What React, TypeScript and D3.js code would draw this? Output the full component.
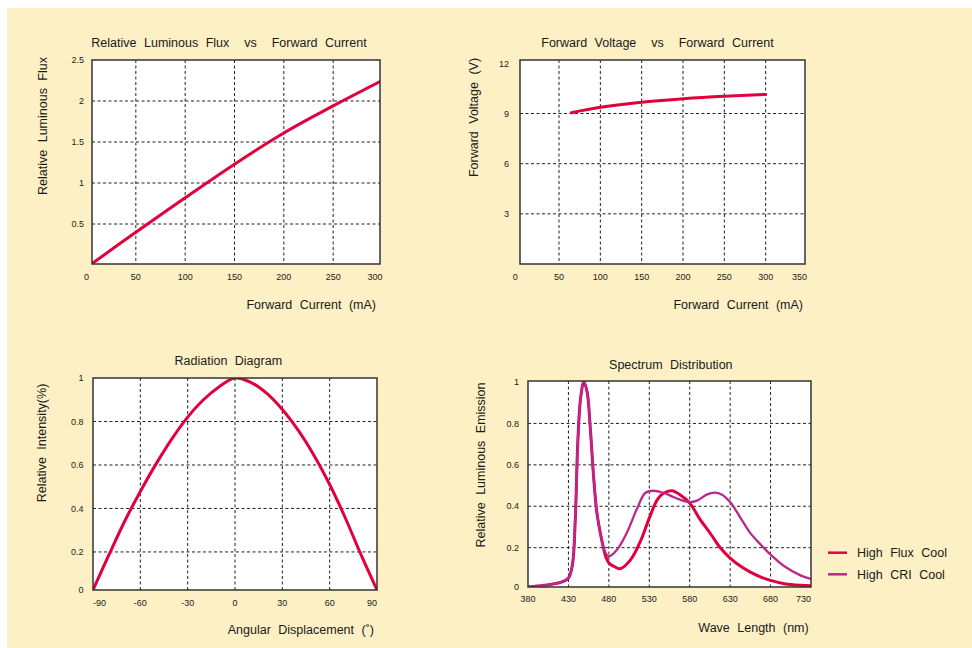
import { line, curveCatmullRom, scaleLinear, type ScaleLinear } from "d3";

const W = 972;
const H = 648;
const FONT = "'Liberation Sans', Arial, Helvetica, sans-serif";
const RED = "#e2003c";
const MAGENTA = "#b8288d";
const BEIGE = "#fdf0c5";

// --- Relative luminous flux vs forward current
const FLUX_CURRENT = [6, 50, 100, 150, 200, 250, 298];
const FLUX_VALUES = [0.02, 0.4, 0.82, 1.23, 1.61, 1.94, 2.24];
const FLUX_X_TICKS = [0, 50, 100, 150, 200, 250, 300];
const FLUX_Y_TICKS = [0.5, 1, 1.5, 2, 2.5];

// --- Forward voltage vs forward current
const VF_CURRENT = [65, 100, 150, 200, 250, 300];
const VF_VALUES = [9.05, 9.37, 9.68, 9.88, 10.03, 10.14];
const VF_X_TICKS = [0, 50, 100, 150, 200, 250, 300, 350];
const VF_Y_TICKS = [3, 6, 9, 12];

// --- Radiation diagram
const RAD_ANGLE = [-90, -80, -70, -60, -50, -40, -30, -20, -10, 0, 10, 20, 30, 40, 50, 60, 70, 80, 90];
const RAD_VALUES = [0, 0.185, 0.34, 0.478, 0.605, 0.72, 0.82, 0.9, 0.96, 1.0, 0.98, 0.93, 0.855, 0.76, 0.645, 0.51, 0.355, 0.185, 0];
const RAD_X_TICKS = [-90, -60, -30, 0, 30, 60, 90];
const RAD_Y_TICKS = [0, 0.2, 0.4, 0.6, 0.8, 1];

// --- Spectrum distribution
const FLUX_COOL_NM = [380, 400, 420, 430, 435, 438.5, 441.5, 445, 449, 453, 457, 461, 465, 470, 476, 480, 486, 494, 507, 519, 530, 540, 548, 558, 568, 580, 593, 606, 618, 630, 643, 655, 668, 680, 697, 717, 730];
const FLUX_COOL = [0.01, 0.018, 0.032, 0.053, 0.12, 0.34, 0.7, 0.92, 1.0, 0.955, 0.78, 0.55, 0.375, 0.26, 0.158, 0.126, 0.11, 0.098, 0.142, 0.23, 0.343, 0.432, 0.464, 0.475, 0.456, 0.416, 0.335, 0.266, 0.198, 0.15, 0.11, 0.082, 0.058, 0.042, 0.026, 0.018, 0.016];
const CRI_COOL_NM = [380, 400, 420, 430, 435, 438.5, 441.5, 445, 449, 453, 457, 461, 465, 470, 476, 480, 490, 502, 515, 525, 535, 548, 558, 568, 580, 589, 601, 611, 620, 630, 643, 655, 668, 680, 697, 717, 730];
const CRI_COOL = [0.01, 0.018, 0.032, 0.053, 0.12, 0.34, 0.7, 0.92, 1.0, 0.955, 0.78, 0.55, 0.375, 0.26, 0.174, 0.158, 0.19, 0.27, 0.39, 0.464, 0.475, 0.464, 0.448, 0.432, 0.42, 0.427, 0.456, 0.466, 0.456, 0.42, 0.343, 0.27, 0.214, 0.166, 0.11, 0.066, 0.049];
const SPEC_X_TICKS = [380, 430, 480, 530, 580, 630, 680, 730];
const SPEC_Y_TICKS = [0, 0.2, 0.4, 0.6, 0.8, 1];
const LEGEND = ["High Flux Cool", "High CRI Cool"];

type Box = { l: number; t: number; r: number; b: number };
type Series = { xs: number[]; ys: number[]; color: string; width: number };
type Anchor = "start" | "middle" | "end";

type PanelProps = {
  id: string;
  box: Box;
  x: ScaleLinear<number, number>;
  y: ScaleLinear<number, number>;
  xTicks: number[];
  yTicks: number[];
  xGrid: number[];
  yGrid: number[];
  series: Series[];
  title: string;
  titleAt: [number, number];
  xTitle: string;
  xTitleAt: [number, number];
  yTitle: string;
  yTitleAt: [number, number];
  firstAnchor?: Anchor;
  lastAnchor?: Anchor;
  xTickGap: number;
  yTickGap: number;
};

function Panel(p: PanelProps) {
  const { box, x, y } = p;
  const path = line<[number, number]>()
    .x((d) => x(d[0]))
    .y((d) => y(d[1]))
    .curve(curveCatmullRom.alpha(0.5));

  return (
    <g>
      <defs>
        <clipPath id={p.id}>
          <rect x={box.l} y={box.t} width={box.r - box.l} height={box.b - box.t} />
        </clipPath>
      </defs>
      <rect x={box.l} y={box.t} width={box.r - box.l} height={box.b - box.t} fill="#fff" />

      {p.xGrid.map((v) => (
        <line key={`gx${v}`} x1={x(v)} x2={x(v)} y1={box.t} y2={box.b}
          stroke="#222" strokeWidth={1} strokeDasharray="3,2.5" />
      ))}
      {p.yGrid.map((v) => (
        <line key={`gy${v}`} x1={box.l} x2={box.r} y1={y(v)} y2={y(v)}
          stroke="#222" strokeWidth={1} strokeDasharray="3,2.5" />
      ))}

      <g clipPath={`url(#${p.id})`}>
        {p.series.map((s, i) => (
          <path key={i} d={path(s.xs.map((v, j) => [v, s.ys[j]] as [number, number])) ?? undefined}
            fill="none" stroke={s.color} strokeWidth={s.width} strokeLinejoin="round" strokeLinecap="round" />
        ))}
      </g>

      <rect x={box.l} y={box.t} width={box.r - box.l} height={box.b - box.t}
        fill="none" stroke="#333" strokeWidth={1.5} />

      {p.xTicks.map((v, i) => {
        const anchor: Anchor =
          i === 0 ? p.firstAnchor ?? "middle" : i === p.xTicks.length - 1 ? p.lastAnchor ?? "middle" : "middle";
        return (
          <text key={`tx${v}`} x={x(v)} y={box.b + p.xTickGap} textAnchor={anchor}
            fontSize={9} fill="#222">{v}</text>
        );
      })}
      {p.yTicks.map((v) => (
        <text key={`ty${v}`} x={box.l - p.yTickGap} y={y(v) + 3.2} textAnchor="end"
          fontSize={9} fill="#222">{v}</text>
      ))}

      <text x={p.titleAt[0]} y={p.titleAt[1]} textAnchor="middle" fontSize={12.5}
        wordSpacing={4} style={{ whiteSpace: "pre" }} fill="#1a1a1a">{p.title}</text>
      <text x={p.xTitleAt[0]} y={p.xTitleAt[1]} textAnchor="end" fontSize={12.5}
        wordSpacing={4} style={{ whiteSpace: "pre" }} fill="#1a1a1a">{p.xTitle}</text>
      <text transform={`translate(${p.yTitleAt[0]},${p.yTitleAt[1]}) rotate(-90)`} textAnchor="middle"
        fontSize={12.5} wordSpacing={4} style={{ whiteSpace: "pre" }} fill="#1a1a1a">{p.yTitle}</text>
    </g>
  );
}

export default function App() {
  const fluxX = scaleLinear().domain([0, 300]).range([86.5, 382.5]);
  const fluxY = scaleLinear().domain([0, 2.5]).range([265, 60]);

  const vfX = scaleLinear().domain([0, 350]).range([517.7, 807]);
  const vfY = scaleLinear().domain([0, 12.2]).range([264, 60]);

  const radX = scaleLinear().domain([-90, 90]).range([93, 377]);
  const radY = scaleLinear().domain([0.025, 1]).range([590, 378]).clamp(true);

  const specX = scaleLinear().domain([380, 730]).range([528, 811]);
  const specY = scaleLinear().domain([0.01, 1.005]).range([587, 381]).clamp(true);

  const legendColors = [RED, MAGENTA];
  const legendY = scaleLinear().domain([0, 1]).range([552.7, 574.3]);

  return (
    <div style={{ position: "absolute", left: 0, top: 0 }}>
      <svg width={W} height={H} viewBox={`0 0 ${W} ${H}`} style={{ display: "block", fontFamily: FONT }}>
        <rect x={0} y={0} width={W} height={H} fill="#fff" />
        <rect x={7} y={8} width={W - 7} height={H - 8} fill={BEIGE} />

        <Panel
          id="c1"
          box={{ l: 92, t: 60, r: 380, b: 264 }}
          x={fluxX}
          y={fluxY}
          xTicks={FLUX_X_TICKS}
          yTicks={FLUX_Y_TICKS}
          xGrid={[50, 100, 150, 200, 250]}
          yGrid={[0.5, 1, 1.5, 2]}
          series={[{ xs: FLUX_CURRENT, ys: FLUX_VALUES, color: RED, width: 3 }]}
          title={"Relative Luminous Flux  vs  Forward Current"}
          titleAt={[229, 46.5]}
          xTitle="Forward Current (mA)"
          xTitleAt={[376, 308.5]}
          yTitle="Relative Luminous Flux"
          yTitleAt={[47, 126]}
          lastAnchor="end"
          xTickGap={15.5}
          yTickGap={8}
        />

        <Panel
          id="c2"
          box={{ l: 520, t: 60, r: 805, b: 264 }}
          x={vfX}
          y={vfY}
          xTicks={VF_X_TICKS}
          yTicks={VF_Y_TICKS}
          xGrid={[50, 100, 150, 200, 250, 300]}
          yGrid={[3, 6, 9]}
          series={[{ xs: VF_CURRENT, ys: VF_VALUES, color: RED, width: 3 }]}
          title={"Forward Voltage  vs  Forward Current"}
          titleAt={[657.5, 46.5]}
          xTitle="Forward Current (mA)"
          xTitleAt={[803, 308.5]}
          yTitle="Forward Voltage (V)"
          yTitleAt={[478, 117.5]}
          firstAnchor="end"
          lastAnchor="end"
          xTickGap={15.5}
          yTickGap={11}
        />

        <Panel
          id="c3"
          box={{ l: 93, t: 378, r: 377, b: 590 }}
          x={radX}
          y={radY}
          xTicks={RAD_X_TICKS}
          yTicks={RAD_Y_TICKS}
          xGrid={[-60, -30, 0, 30, 60]}
          yGrid={[0.2, 0.4, 0.6, 0.8]}
          series={[{ xs: RAD_ANGLE, ys: RAD_VALUES, color: RED, width: 3 }]}
          title="Radiation Diagram"
          titleAt={[228.3, 364.5]}
          xTitle="Angular Displacement (˚)"
          xTitleAt={[374, 633.5]}
          yTitle="Relative Intensity(%)"
          yTitleAt={[46, 443]}
          firstAnchor="start"
          lastAnchor="end"
          xTickGap={16}
          yTickGap={9.5}
        />

        <Panel
          id="c4"
          box={{ l: 528, t: 381, r: 811, b: 587 }}
          x={specX}
          y={specY}
          xTicks={SPEC_X_TICKS}
          yTicks={SPEC_Y_TICKS}
          xGrid={[430, 480, 530, 580, 630, 680]}
          yGrid={[0.2, 0.4, 0.6, 0.8]}
          series={[
            { xs: FLUX_COOL_NM, ys: FLUX_COOL, color: RED, width: 3 },
            { xs: CRI_COOL_NM, ys: CRI_COOL, color: MAGENTA, width: 2.3 },
          ]}
          title="Spectrum Distribution"
          titleAt={[670.8, 368.5]}
          xTitle="Wave Length (nm)"
          xTitleAt={[808.7, 631.5]}
          yTitle="Relative Luminous Emission"
          yTitleAt={[484.5, 465]}
          lastAnchor="end"
          xTickGap={14.5}
          yTickGap={9}
        />

        {LEGEND.map((name, i) => (
          <g key={name}>
            <line x1={828} x2={847} y1={legendY(i)} y2={legendY(i)} stroke={legendColors[i]} strokeWidth={2.5} />
            <text x={857} y={legendY(i) + 4.3} fontSize={12.5} wordSpacing={4}
              style={{ whiteSpace: "pre" }} fill="#1a1a1a">{name}</text>
          </g>
        ))}
      </svg>
    </div>
  );
}
